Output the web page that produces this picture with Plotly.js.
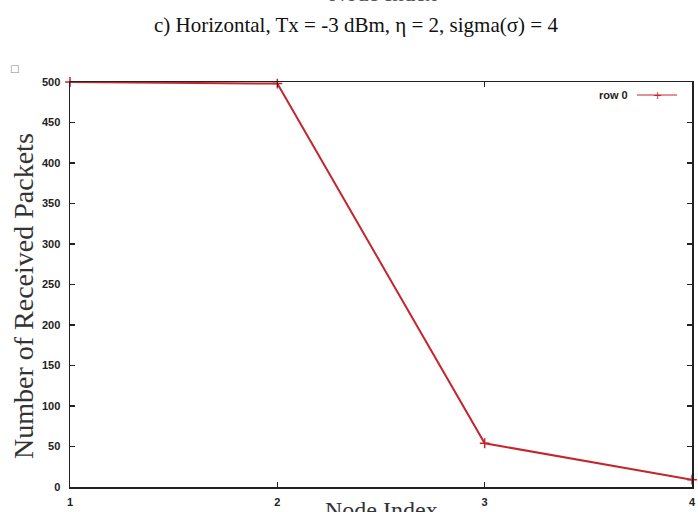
<!DOCTYPE html>
<html>
<head>
<meta charset="utf-8">
<script src="https://cdn.plot.ly/plotly-3.0.1.min.js"></script>
<style>html,body{margin:0;padding:0;background:#fff;}#chart{width:698px;height:512px;}</style>
</head>
<body>
<div id="chart"></div>
<script>
const nodeIndex = [1, 2, 3, 4];
const receivedPackets = [500, 498, 54, 9];
const yTicks = [0, 50, 100, 150, 200, 250, 300, 350, 400, 450, 500];
const seriesName = "row 0";
const lineColor = "#c4262e";

const trace = {
  x: nodeIndex,
  y: receivedPackets,
  type: "scatter",
  mode: "lines+markers",
  name: seriesName,
  line: {color: lineColor, width: 2},
  marker: {symbol: "cross-thin", size: 7, color: lineColor, line: {color: lineColor, width: 1.5}},
  showlegend: false,
  cliponaxis: false
};

const tickFont = {family: "Liberation Sans, Arial, sans-serif", size: 11, color: "#222", weight: "bold"};
const serif = "Liberation Serif, Times New Roman, serif";

const layout = {
  width: 698, height: 512,
  margin: {l: 70, r: 6, t: 82, b: 25, pad: 0},
  paper_bgcolor: "#fff", plot_bgcolor: "#fff",
  title: {
    text: "c) Horizontal, Tx = -3 dBm, η = 2, sigma(σ) = 4",
    font: {family: serif, size: 21, color: "#111"},
    x: 356/698, xanchor: "center", y: 1 - 25/512, yanchor: "middle", xref: "container"
  },
  xaxis: {
    range: [1, 4], tickvals: nodeIndex, ticktext: nodeIndex.map(String),
    ticks: "inside", ticklen: 5, tickwidth: 1.5, tickcolor: "#222",
    showline: true, linecolor: "#222", linewidth: 1.5, mirror: "ticks",
    showgrid: false, zeroline: false, tickfont: tickFont, ticklabelstandoff: 4
  },
  yaxis: {
    range: [0, 500], tickvals: yTicks,
    ticks: "inside", ticklen: 5, tickwidth: 1.5, tickcolor: "#222",
    showline: true, linecolor: "#222", linewidth: 1.5, mirror: "ticks",
    showgrid: false, zeroline: false, tickfont: tickFont, ticklabelstandoff: 6
  },
  annotations: [
    {text: "Number of Received Packets", textangle: -90, xref: "paper", yref: "paper",
     x: (23-70)/622, y: (487-296)/405, xanchor: "center", yanchor: "middle", showarrow: false,
     font: {family: serif, size: 28, color: "#333"}},
    {text: "Node Index", xref: "paper", yref: "paper", x: (381-70)/622, y: (487-495)/405,
     xanchor: "center", yanchor: "top", showarrow: false,
     font: {family: serif, size: 24, color: "#333"}},
    {text: "Node Index", xref: "paper", yref: "paper", x: (383-70)/622, y: (487-8)/405,
     xanchor: "center", yanchor: "bottom", showarrow: false,
     font: {family: serif, size: 23, color: "#555"}},
    {text: seriesName, xref: "paper", yref: "paper", x: (630-70)/622, y: (487-95)/405,
     xanchor: "right", yanchor: "middle", showarrow: false,
     font: {family: "Liberation Sans, Arial, sans-serif", size: 11, color: "#222", weight: "bold"}},
    {text: "+", xref: "paper", yref: "paper", x: (657-70)/622, y: (487-95)/405,
     xanchor: "center", yanchor: "middle", showarrow: false,
     font: {family: "DejaVu Sans, sans-serif", size: 11, color: lineColor}},
    {text: "□", xref: "paper", yref: "paper", x: (14-70)/622, y: (487-68)/405,
     xanchor: "center", yanchor: "middle", showarrow: false,
     font: {family: "DejaVu Sans, sans-serif", size: 10, color: "#888"}}
  ],
  shapes: [
    {type: "line", xref: "paper", yref: "paper", x0: (637-70)/622, x1: (677-70)/622,
     y0: (487-95)/405, y1: (487-95)/405, line: {color: lineColor, width: 1.2}}
  ]
};

Plotly.newPlot("chart", [trace], layout, {displayModeBar: false, staticPlot: true});
</script>
</body>
</html>
